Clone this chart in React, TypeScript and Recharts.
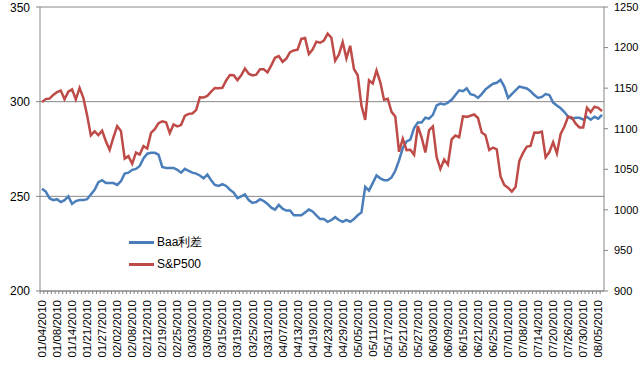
import { LineChart, Line, XAxis, YAxis, CartesianGrid, Legend } from 'recharts';

const dates = [
  '01/04/2010', '01/05/2010', '01/06/2010', '01/07/2010', '01/08/2010', '01/11/2010', '01/12/2010', '01/13/2010',
  '01/14/2010', '01/15/2010', '01/19/2010', '01/20/2010', '01/21/2010', '01/22/2010', '01/25/2010', '01/26/2010',
  '01/27/2010', '01/28/2010', '01/29/2010',
  '02/01/2010', '02/02/2010', '02/03/2010', '02/04/2010', '02/05/2010', '02/08/2010', '02/09/2010', '02/10/2010',
  '02/11/2010', '02/12/2010', '02/16/2010', '02/17/2010', '02/18/2010', '02/19/2010', '02/22/2010', '02/23/2010',
  '02/24/2010', '02/25/2010', '02/26/2010',
  '03/01/2010', '03/02/2010', '03/03/2010', '03/04/2010', '03/05/2010', '03/08/2010', '03/09/2010', '03/10/2010',
  '03/11/2010', '03/12/2010', '03/15/2010', '03/16/2010', '03/17/2010', '03/18/2010', '03/19/2010', '03/22/2010',
  '03/23/2010', '03/24/2010', '03/25/2010', '03/26/2010', '03/29/2010', '03/30/2010', '03/31/2010',
  '04/01/2010', '04/05/2010', '04/06/2010', '04/07/2010', '04/08/2010', '04/09/2010', '04/12/2010', '04/13/2010',
  '04/14/2010', '04/15/2010', '04/16/2010', '04/19/2010', '04/20/2010', '04/21/2010', '04/22/2010', '04/23/2010',
  '04/26/2010', '04/27/2010', '04/28/2010', '04/29/2010', '04/30/2010',
  '05/03/2010', '05/04/2010', '05/05/2010', '05/06/2010', '05/07/2010', '05/10/2010', '05/11/2010', '05/12/2010',
  '05/13/2010', '05/14/2010', '05/17/2010', '05/18/2010', '05/19/2010', '05/20/2010', '05/21/2010', '05/24/2010',
  '05/25/2010', '05/26/2010', '05/27/2010', '05/28/2010',
  '06/01/2010', '06/02/2010', '06/03/2010', '06/04/2010', '06/07/2010', '06/08/2010', '06/09/2010', '06/10/2010',
  '06/11/2010', '06/14/2010', '06/15/2010', '06/16/2010', '06/17/2010', '06/18/2010', '06/21/2010', '06/22/2010',
  '06/23/2010', '06/24/2010', '06/25/2010', '06/28/2010', '06/29/2010', '06/30/2010',
  '07/01/2010', '07/02/2010', '07/06/2010', '07/07/2010', '07/08/2010', '07/09/2010', '07/12/2010', '07/13/2010',
  '07/14/2010', '07/15/2010', '07/16/2010', '07/19/2010', '07/20/2010', '07/21/2010', '07/22/2010', '07/23/2010',
  '07/26/2010', '07/27/2010', '07/28/2010', '07/29/2010', '07/30/2010',
  '08/02/2010', '08/03/2010', '08/04/2010', '08/05/2010', '08/06/2010',
];

// Baa spread, left axis
const baaSpread = [
  254, 252.5, 249, 248, 248.5, 247, 248, 250, 246, 247.5,
  248, 248, 248.5, 251, 253.5, 257.5, 258.5, 257, 257, 257,
  256, 258, 262, 262.5, 264, 264.5, 266, 270, 272.5, 273,
  273, 272, 265.5, 265, 265, 265, 264, 262.5, 264.5, 263.5,
  262.5, 262, 261, 259.5, 261.5, 258.5, 256, 255.5, 256.5, 255.5,
  253.5, 252, 249, 250, 251, 248, 246.5, 247, 248.5, 247.5,
  246, 244, 243, 245.5, 243.5, 242.5, 242.5, 240, 240, 240,
  241.5, 243, 242, 240, 238, 238, 236.5, 237.5, 239, 237.5,
  236.5, 237.5, 236.5, 238, 240, 241.5, 255, 253, 257, 261,
  259.5, 258.5, 258.5, 260, 263.5, 269, 275.5, 279, 280, 286,
  289, 289, 291.5, 291, 293, 298, 299, 298.5, 299.5, 301,
  303.5, 306, 305.5, 307, 304, 303.5, 302, 304, 306.5, 308,
  309.5, 310, 311.5, 308, 302, 304, 306, 308, 307.5, 307,
  305.5, 303.5, 302, 302.5, 304, 303.5, 299.5, 298, 296.5, 294.5,
  292, 291, 291.5, 291.5, 290.5, 292, 290.5, 292, 291, 293,
];

// S&P500, right axis
const sp500 = [
  1132.99, 1136.52, 1137.14, 1141.69, 1144.98, 1146.98, 1136.22, 1145.68, 1148.46, 1136.03,
  1150.23, 1138.04, 1116.48, 1091.76, 1096.78, 1092.17, 1097.5, 1084.53, 1073.87,
  1089.19, 1103.32, 1097.28, 1063.11, 1066.19, 1056.74, 1070.52, 1068.13, 1078.47, 1075.51,
  1094.87, 1099.51, 1106.75, 1109.17, 1108.01, 1094.6, 1105.24, 1102.94, 1104.49,
  1115.71, 1118.31, 1118.79, 1122.97, 1138.7, 1138.5, 1140.45, 1145.61, 1150.24, 1149.99,
  1150.51, 1159.46, 1166.21, 1165.83, 1159.9, 1165.81, 1174.17, 1167.72, 1165.73, 1166.59,
  1173.22, 1173.27, 1169.43,
  1178.1, 1187.44, 1189.44, 1182.45, 1186.44, 1194.37, 1196.48, 1197.3, 1210.65, 1211.67,
  1192.13, 1197.52, 1207.17, 1205.94, 1208.67, 1217.28, 1212.05, 1183.71, 1191.36, 1206.78, 1186.69,
  1202.26, 1173.6, 1165.87, 1128.15, 1110.88, 1159.73, 1155.79, 1171.67, 1157.44, 1135.68,
  1136.94, 1120.8, 1115.05, 1071.59, 1087.69, 1073.65, 1074.03, 1067.95, 1103.06, 1089.41,
  1070.71, 1098.38, 1102.83, 1064.88, 1050.47, 1062.0, 1055.69, 1086.84, 1091.6, 1089.63,
  1115.23, 1114.61, 1116.04, 1117.51, 1113.2, 1095.31, 1092.04, 1073.69, 1076.76, 1074.57,
  1041.24, 1030.71,
  1027.37, 1022.58, 1028.06, 1060.27, 1070.25, 1077.96, 1078.75, 1095.34, 1095.17, 1096.48,
  1064.88, 1071.25, 1083.48, 1069.59, 1093.67, 1102.66, 1115.01, 1113.84, 1106.13, 1101.53, 1101.6,
  1125.86, 1120.46, 1127.24, 1125.81, 1121.64,
];

const leftTicks = [200, 250, 300, 350];
const rightTicks = [900, 950, 1000, 1050, 1100, 1150, 1200, 1250];

const series = [
  { key: 'baa', name: 'Baa利差', color: '#4a7ebb', axis: 'left' },
  { key: 'sp', name: 'S&P500', color: '#be4b48', axis: 'right' },
];

const data = dates.map((date, i) => ({ date, baa: baaSpread[i], sp: sp500[i] }));

const FONT = '"Liberation Sans", Arial, sans-serif';
const AXIS = '#868686';

function DateTick(props: any) {
  const { x, y, payload } = props;
  const i = props.index ?? payload.index;
  return (
    <g>
      <line x1={x - 1.9} y1={y} x2={x - 1.9} y2={y + 3} stroke={AXIS} />
      {i % 4 === 0 && (
        <text
          transform={`translate(${x},${y + 9}) rotate(-90)`}
          textAnchor="end"
          dy="0.35em"
          fontSize={11.5}
          fontFamily={FONT}
          fill="#000"
        >
          {payload.value}
        </text>
      )}
    </g>
  );
}

const renderLegend = () => (
  <div style={{ fontFamily: FONT, fontSize: 12, color: '#000' }}>
    {series.map((s) => (
      <div key={s.key} style={{ display: 'flex', alignItems: 'center', height: 22 }}>
        <span style={{ display: 'inline-block', width: 25, height: 3, background: s.color, marginRight: 3 }} />
        {s.name}
      </div>
    ))}
  </div>
);

export default function App() {
  return (
    <div style={{ position: 'absolute', left: 0, top: 0, background: '#fff' }}>
      <LineChart width={640} height={365} data={data} margin={{ top: 7, right: 0, left: 0, bottom: 0 }}>
        <CartesianGrid yAxisId="left" vertical={false} stroke={AXIS} />
        <XAxis
          dataKey="date"
          interval={0}
          height={74}
          padding={{ left: 2, right: 2 }}
          stroke={AXIS}
          tickLine={false}
          tickSize={0}
          tickMargin={0}
          tick={<DateTick />}
        />
        <YAxis
          yAxisId="left"
          width={40}
          domain={[200, 350]}
          ticks={leftTicks}
          stroke={AXIS}
          tickSize={4}
          tickMargin={6}
          tick={{ fontSize: 12, fill: '#000', fontFamily: FONT }}
        />
        <YAxis
          yAxisId="right"
          orientation="right"
          width={36}
          domain={[900, 1250]}
          ticks={rightTicks}
          stroke={AXIS}
          tickSize={4}
          tickMargin={6}
          tick={{ fontSize: 11, fill: '#000', fontFamily: FONT }}
        />
        <Legend
          layout="vertical"
          align="center"
          verticalAlign="middle"
          wrapperStyle={{ left: 129, top: 231, width: 110 }}
          content={renderLegend}
        />
        {series.map((s) => (
          <Line
            key={s.key}
            yAxisId={s.axis}
            dataKey={s.key}
            name={s.name}
            type="linear"
            stroke={s.color}
            strokeWidth={2.5}
            dot={false}
            isAnimationActive={false}
          />
        ))}
      </LineChart>
    </div>
  );
}
